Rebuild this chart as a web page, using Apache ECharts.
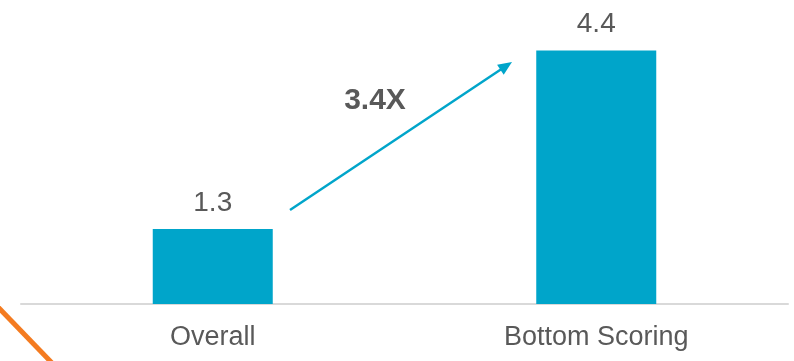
<!DOCTYPE html>
<html>
<head>
<meta charset="utf-8">
<script src="https://cdn.jsdelivr.net/npm/echarts@6/dist/echarts.min.js"></script>
<style>html,body{margin:0;padding:0;background:#fff;}#c{width:794px;height:361px;}</style>
</head>
<body>
<div id="c"></div>
<script>
var categories = ['Overall', 'Bottom Scoring'];
var values = [1.3, 4.4];
var multiplierText = '3.4X';

var chart = echarts.init(document.getElementById('c'));
chart.setOption({
  animation: false,
  grid: { left: 21, right: 6, top: 16, bottom: 57 },
  xAxis: {
    type: 'category',
    data: categories,
    axisLine: { lineStyle: { color: '#d9d9d9', width: 2 } },
    axisTick: { show: false },
    axisLabel: { color: '#595959', fontSize: 27, fontFamily: 'Liberation Sans, Arial, sans-serif', margin: 20 }
  },
  yAxis: { type: 'value', min: 0, max: 5, show: false, splitLine: { show: false } },
  series: [{
    type: 'bar',
    data: values,
    barWidth: 120,
    itemStyle: { color: '#00A5CA' },
    label: {
      show: true, position: 'top', distance: 12,
      color: '#595959', fontSize: 28, fontFamily: 'Liberation Sans, Arial, sans-serif'
    }
  }],
  graphic: [
    { type: 'line', shape: { x1: 290, y1: 210, x2: 503, y2: 68 }, style: { stroke: '#00A5CA', lineWidth: 2.5 } },
    { type: 'polygon', shape: { points: [[512, 62], [503.7, 74.8], [497.1, 64.8]] }, style: { fill: '#00A5CA' } },
    { type: 'text', x: 375, y: 101, style: { text: multiplierText, fill: '#595959', font: 'bold 30px "Liberation Sans", Arial, sans-serif', align: 'center', verticalAlign: 'middle' } },
    { type: 'line', shape: { x1: -2, y1: 307, x2: 52, y2: 363 }, style: { stroke: '#F47B20', lineWidth: 5 } }
  ]
});
</script>
</body>
</html>
